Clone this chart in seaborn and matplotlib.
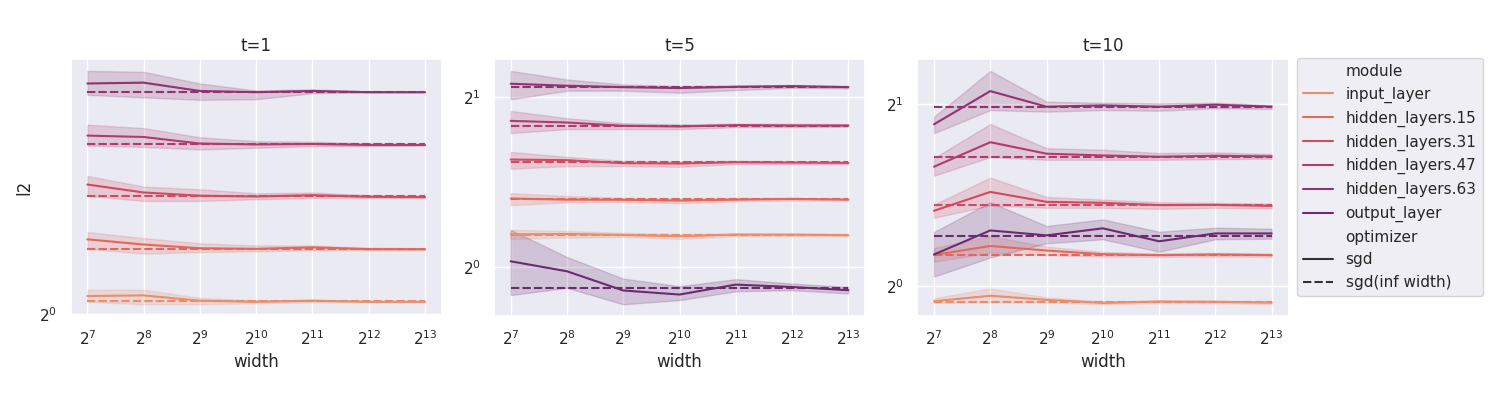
import matplotlib.pyplot as plt
import pandas as pd
import seaborn as sns

sns.set_theme(style="darkgrid")

widths = [128, 256, 512, 1024, 2048, 4096, 8192]
modules = ["input_layer", "hidden_layers.15", "hidden_layers.31",
           "hidden_layers.47", "hidden_layers.63", "output_layer"]
steps = [1, 5, 10]

# t=1 (no output_layer curve)
t1_mid = {
    "input_layer":      [1.050, 1.052, 1.037, 1.034, 1.037, 1.034, 1.034],
    "hidden_layers.15": [1.223, 1.206, 1.194, 1.192, 1.197, 1.191, 1.191],
    "hidden_layers.31": [1.417, 1.387, 1.375, 1.372, 1.377, 1.371, 1.370],
    "hidden_layers.47": [1.616, 1.610, 1.582, 1.578, 1.580, 1.576, 1.576],
    "hidden_layers.63": [1.859, 1.863, 1.822, 1.816, 1.822, 1.816, 1.816],
}
t1_lo = {
    "input_layer":      [1.034, 1.027, 1.027, 1.030, 1.033, 1.033, 1.033],
    "hidden_layers.15": [1.192, 1.177, 1.182, 1.184, 1.188, 1.188, 1.188],
    "hidden_layers.31": [1.375, 1.356, 1.356, 1.362, 1.367, 1.367, 1.366],
    "hidden_layers.47": [1.573, 1.568, 1.557, 1.564, 1.571, 1.571, 1.573],
    "hidden_layers.63": [1.803, 1.791, 1.779, 1.782, 1.811, 1.814, 1.814],
}
t1_hi = {
    "input_layer":      [1.068, 1.068, 1.045, 1.038, 1.040, 1.036, 1.036],
    "hidden_layers.15": [1.247, 1.227, 1.210, 1.203, 1.203, 1.196, 1.194],
    "hidden_layers.31": [1.450, 1.409, 1.399, 1.384, 1.387, 1.377, 1.375],
    "hidden_layers.47": [1.664, 1.649, 1.609, 1.592, 1.590, 1.582, 1.580],
    "hidden_layers.63": [1.923, 1.918, 1.859, 1.824, 1.830, 1.819, 1.819],
}
t1_inf = {"input_layer": 1.035, "hidden_layers.15": 1.192, "hidden_layers.31": 1.375,
          "hidden_layers.47": 1.578, "hidden_layers.63": 1.817}

# t=5
t5_mid = {
    "input_layer":      [1.144, 1.146, 1.141, 1.135, 1.143, 1.143, 1.140],
    "hidden_layers.15": [1.324, 1.318, 1.317, 1.313, 1.318, 1.322, 1.318],
    "hidden_layers.31": [1.552, 1.548, 1.529, 1.527, 1.535, 1.533, 1.531],
    "hidden_layers.47": [1.817, 1.805, 1.781, 1.776, 1.786, 1.783, 1.783],
    "hidden_layers.63": [2.114, 2.097, 2.085, 2.077, 2.088, 2.094, 2.085],
    "output_layer":     [1.025, 0.984, 0.910, 0.895, 0.932, 0.923, 0.911],
}
t5_lo = {
    "input_layer":      [1.123, 1.129, 1.132, 1.123, 1.135, 1.135, 1.134],
    "hidden_layers.15": [1.289, 1.303, 1.306, 1.299, 1.310, 1.313, 1.313],
    "hidden_layers.31": [1.495, 1.511, 1.511, 1.507, 1.523, 1.523, 1.523],
    "hidden_layers.47": [1.729, 1.757, 1.757, 1.757, 1.771, 1.771, 1.774],
    "hidden_layers.63": [1.984, 2.055, 2.055, 2.038, 2.060, 2.080, 2.074],
    "output_layer":     [0.893, 0.920, 0.860, 0.875, 0.907, 0.911, 0.899],
}
t5_hi = {
    "input_layer":      [1.165, 1.160, 1.151, 1.146, 1.148, 1.147, 1.146],
    "hidden_layers.15": [1.353, 1.338, 1.327, 1.324, 1.327, 1.327, 1.324],
    "hidden_layers.31": [1.601, 1.569, 1.544, 1.540, 1.544, 1.540, 1.537],
    "hidden_layers.47": [1.892, 1.837, 1.800, 1.791, 1.796, 1.796, 1.793],
    "hidden_layers.63": [2.228, 2.151, 2.108, 2.094, 2.099, 2.102, 2.094],
    "output_layer":     [1.165, 1.043, 0.955, 0.926, 0.953, 0.936, 0.923],
}
t5_inf = {"input_layer": 1.141, "hidden_layers.15": 1.320, "hidden_layers.31": 1.535,
          "hidden_layers.47": 1.783, "hidden_layers.63": 2.088, "output_layer": 0.919}

# t=10
t10_mid = {
    "input_layer":      [0.945, 0.965, 0.950, 0.939, 0.944, 0.943, 0.940],
    "hidden_layers.15": [1.127, 1.166, 1.146, 1.130, 1.126, 1.129, 1.126],
    "hidden_layers.31": [1.333, 1.432, 1.379, 1.374, 1.362, 1.363, 1.358],
    "hidden_layers.47": [1.576, 1.730, 1.656, 1.645, 1.637, 1.643, 1.639],
    "hidden_layers.63": [1.852, 2.101, 1.980, 1.990, 1.980, 1.995, 1.980],
    "output_layer":     [1.129, 1.237, 1.214, 1.247, 1.187, 1.223, 1.223],
}
t10_lo = {
    "input_layer":      [0.939, 0.941, 0.941, 0.934, 0.938, 0.938, 0.935],
    "hidden_layers.15": [1.098, 1.137, 1.126, 1.120, 1.119, 1.120, 1.119],
    "hidden_layers.31": [1.298, 1.360, 1.348, 1.348, 1.343, 1.348, 1.345],
    "hidden_layers.47": [1.523, 1.635, 1.618, 1.618, 1.618, 1.622, 1.625],
    "hidden_layers.63": [1.790, 1.955, 1.943, 1.955, 1.950, 1.968, 1.963],
    "output_layer":     [1.038, 1.116, 1.178, 1.196, 1.141, 1.196, 1.199],
}
t10_hi = {
    "input_layer":      [0.956, 0.992, 0.959, 0.945, 0.948, 0.947, 0.946],
    "hidden_layers.15": [1.157, 1.211, 1.163, 1.140, 1.133, 1.136, 1.133],
    "hidden_layers.31": [1.365, 1.512, 1.405, 1.391, 1.377, 1.374, 1.369],
    "hidden_layers.47": [1.629, 1.854, 1.691, 1.681, 1.660, 1.664, 1.654],
    "hidden_layers.63": [1.906, 2.269, 2.018, 2.010, 2.005, 2.010, 1.992],
    "output_layer":     [1.230, 1.377, 1.258, 1.290, 1.231, 1.250, 1.245],
}
t10_inf = {"input_layer": 0.943, "hidden_layers.15": 1.126, "hidden_layers.31": 1.362,
           "hidden_layers.47": 1.637, "hidden_layers.63": 1.977, "output_layer": 1.210}

panels = {
    1: (t1_mid, t1_lo, t1_hi, t1_inf),
    5: (t5_mid, t5_lo, t5_hi, t5_inf),
    10: (t10_mid, t10_lo, t10_hi, t10_inf),
}


def build_frame() -> pd.DataFrame:
    rows = []
    for t, (mid, lo, hi, inf) in panels.items():
        for module in modules:
            if module not in mid:
                continue
            for i, w in enumerate(widths):
                for v in (lo[module][i], mid[module][i], hi[module][i]):
                    rows.append((t, module, "sgd", w, v))
                rows.append((t, module, "sgd(inf width)", w, inf[module]))
    return pd.DataFrame(rows, columns=["t", "module", "optimizer", "width", "l2"])


df = build_frame()
palette = dict(zip(modules, sns.color_palette("flare", len(modules))))

fig, axes = plt.subplots(1, 3, figsize=(15, 4))
fig.subplots_adjust(left=0.047, right=0.859, top=0.852, bottom=0.21, wspace=0.14)

for ax, t in zip(axes, steps):
    sub = df[df["t"] == t]
    sns.lineplot(
        data=sub, x="width", y="l2", hue="module", style="optimizer",
        hue_order=modules, style_order=["sgd", "sgd(inf width)"],
        palette=palette, estimator="median", errorbar=("pi", 100),
        ax=ax, legend=(t == steps[-1]),
    )
    ax.set_xscale("log", base=2)
    ax.set_yscale("log", base=2)
    ax.set_title(f"t={t}")
    ax.set_xlabel("width")
    ax.set_ylabel("l2" if t == steps[0] else "")

sns.move_legend(axes[-1], "upper left", bbox_to_anchor=(1.022, 1.005), borderaxespad=0)

fig.savefig("out.png", dpi=100)
